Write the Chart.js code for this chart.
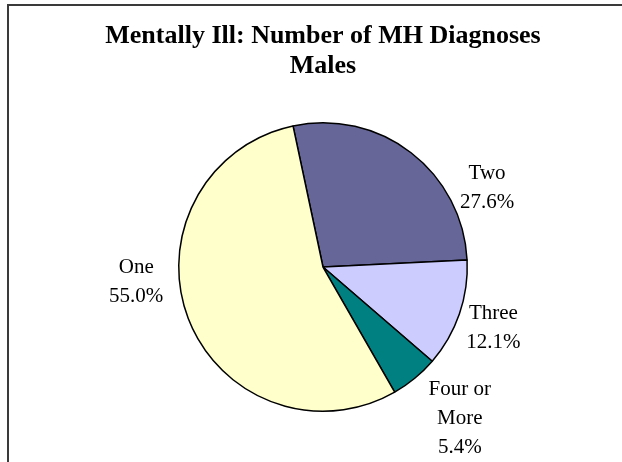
<!DOCTYPE html>
<html>
<head>
<meta charset="utf-8">
<script src="https://cdn.jsdelivr.net/npm/chart.js@4/dist/chart.umd.min.js"></script>
<style>
  html, body { margin: 0; padding: 0; background: #fff; overflow: hidden; }
  .frame {
    position: absolute; left: 7px; top: 4px;
    width: 660px; height: 520px;
    border: 2px solid #3a3a3a;
  }
  canvas { position: absolute; left: 0; top: 0; }
</style>
</head>
<body>
<div class="frame"></div>
<canvas id="pie" width="622" height="462"></canvas>
<script>
"use strict";

// slices go clockwise starting just left of 12 o'clock
const categories = ["Two", "Three", "Four or More", "One"];
const labelLines = [["Two"], ["Three"], ["Four or", "More"], ["One"]];
const percents = [27.6, 12.1, 5.4, 55.0];
const sliceColors = ["#666699", "#CCCCFF", "#008080", "#FFFFCC"];

// outside labels, nudged from the slice's outer edge (like excel places them)
const outsideLabels = {
  id: "outsideLabels",
  afterDatasetsDraw(chart, args, opts) {
    const ctx = chart.ctx;
    const meta = chart.getDatasetMeta(0);
    ctx.save();
    ctx.font = opts.font;
    ctx.fillStyle = "#000";
    ctx.textAlign = "center";
    ctx.textBaseline = "middle";
    meta.data.forEach((arc, i) => {
      const p = arc.getProps(["x", "y", "startAngle", "endAngle", "outerRadius"], true);
      const mid = (p.startAngle + p.endAngle) / 2;
      const ax = p.x + Math.cos(mid) * p.outerRadius + opts.offsets[i][0];
      const ay = p.y + Math.sin(mid) * p.outerRadius + opts.offsets[i][1];
      const lines = labelLines[i].concat([percents[i].toFixed(1) + "%"]);
      const top = ay - ((lines.length - 1) * opts.lineGap) / 2;
      lines.forEach((t, j) => ctx.fillText(t, ax, top + j * opts.lineGap));
    });
    ctx.restore();
  },
};

const ctx = document.getElementById("pie").getContext("2d");
const myChart = new Chart(ctx, {
  type: "pie",
  data: {
    labels: categories,
    datasets: [
      {
        data: percents,
        backgroundColor: sliceColors,
        borderColor: "#000",
        borderWidth: 1.5,
      },
    ],
  },
  options: {
    responsive: false,
    animation: false,
    rotation: -12,
    layout: {
      // wide chart area so the title isn't squeezed; pie stays 290px tall
      padding: { left: 90, right: 66, top: 0, bottom: 50 },
    },
    plugins: {
      legend: { display: false },
      tooltip: { enabled: false },
      title: {
        display: true,
        text: ["Mentally Ill: Number of MH Diagnoses", "Males"],
        color: "#000",
        font: { family: "'Liberation Serif', 'Times New Roman', serif", size: 26, weight: "bold", lineHeight: 1.154 },
        padding: { top: 21, bottom: 41 },
      },
      outsideLabels: {
        font: "21px 'Liberation Serif', 'Times New Roman', serif",
        lineGap: 29,
        offsets: [[76, 35], [34, 14], [45, 40], [-52, -36]],
      },
    },
  },
  plugins: [outsideLabels],
});
</script>
</body>
</html>
